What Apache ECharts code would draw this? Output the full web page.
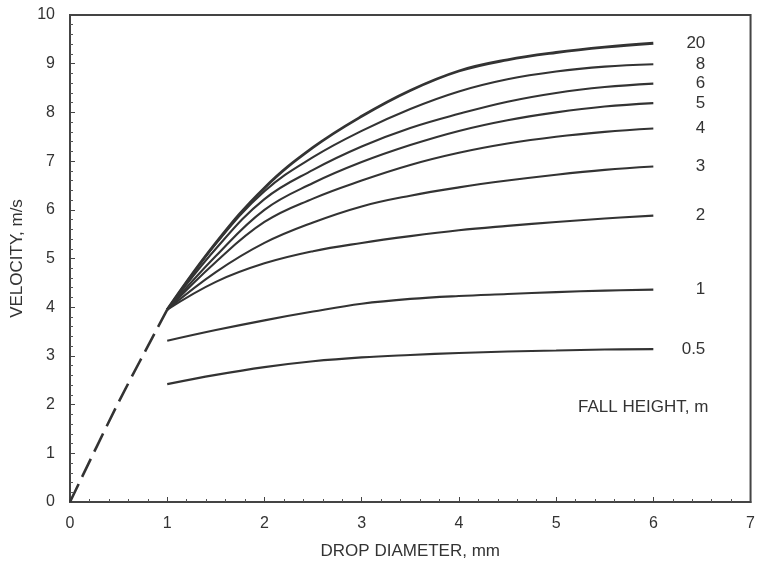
<!DOCTYPE html>
<html>
<head>
<meta charset="utf-8">
<script src="https://cdn.jsdelivr.net/npm/echarts@6/dist/echarts.min.js"></script>
<style>html,body{margin:0;padding:0;background:#fff;}#c{width:758px;height:566px;}</style>
</head>
<body>
<div id="c"></div>
<script>
const diam = [1, 1.5, 2, 2.5, 3, 3.5, 4, 4.5, 5, 5.5, 6];
const h20  = [3.95, 5.32, 6.45, 7.28, 7.92, 8.45, 8.85, 9.08, 9.23, 9.34, 9.42];
const h8   = [3.95, 5.30, 6.38, 7.08, 7.62, 8.07, 8.43, 8.68, 8.84, 8.94, 8.99];
const h6   = [3.95, 5.20, 6.22, 6.82, 7.30, 7.68, 7.97, 8.22, 8.40, 8.52, 8.59];
const h5   = [3.95, 5.05, 6.00, 6.55, 6.98, 7.33, 7.62, 7.84, 8.00, 8.12, 8.19];
const h4   = [3.95, 4.93, 5.75, 6.23, 6.60, 6.92, 7.17, 7.36, 7.50, 7.60, 7.67];
const h3   = [3.95, 4.72, 5.32, 5.74, 6.07, 6.29, 6.46, 6.60, 6.72, 6.82, 6.89];
const h2   = [3.95, 4.52, 4.90, 5.15, 5.32, 5.46, 5.58, 5.67, 5.75, 5.82, 5.88];
const h1   = [3.31, 3.53, 3.73, 3.91, 4.07, 4.17, 4.23, 4.27, 4.31, 4.34, 4.36];
const h05  = [2.42, 2.61, 2.77, 2.89, 2.97, 3.02, 3.06, 3.09, 3.11, 3.13, 3.14];
const dashX = [0, 0.5, 1];
const dashY = [0, 2.05, 3.95];
const heightNames = ['20', '8', '6', '5', '4', '3', '2', '1', '0.5'];
const heightData = [h20, h8, h6, h5, h4, h3, h2, h1, h05];
const xTicks = [0, 1, 2, 3, 4, 5, 6, 7];
const yTicks = [0, 1, 2, 3, 4, 5, 6, 7, 8, 9, 10];

const FONT = 'Liberation Sans, Arial, sans-serif';
const LINE = '#333';

const series = heightData.map((vals, i) => ({
  type: 'line',
  name: heightNames[i],
  data: diam.map((d, j) => [d, vals[j]]),
  smooth: 0.4,
  showSymbol: false,
  symbol: 'none',
  silent: true,
  lineStyle: { color: LINE, width: i === 0 ? 2.8 : 2.1 },
  endLabel: {
    show: true,
    formatter: heightNames[i],
    distance: 52,
    align: 'right',
    color: '#333',
    fontSize: 17,
    fontFamily: FONT
  }
}));

series.push({
  type: 'line',
  name: 'extrap',
  data: dashX.map((d, j) => [d, dashY[j]]),
  smooth: 0.3,
  symbol: 'none',
  silent: true,
  lineStyle: { color: LINE, width: 2.6, type: [20, 8] }
});

const chart = echarts.init(document.getElementById('c'), null, { renderer: 'canvas' });
chart.setOption({
  animation: false,
  backgroundColor: '#fff',
  grid: { left: 70, right: 2, top: 15, bottom: 64, show: true, borderColor: '#444', borderWidth: 2, backgroundColor: 'transparent' },
  xAxis: {
    type: 'value', min: 0, max: 7, interval: 1,
    name: 'DROP DIAMETER, mm', nameLocation: 'middle', nameGap: 41,
    nameTextStyle: { fontSize: 17, color: '#333', fontFamily: FONT },
    axisLine: { show: true, lineStyle: { color: '#444', width: 2 } },
    axisTick: { show: true, inside: true, length: 5, lineStyle: { color: '#444', width: 1 } },
    minorTick: { show: true, splitNumber: 5, length: 3, lineStyle: { color: '#555', width: 1 } },
    splitLine: { show: false },
    axisLabel: { margin: 14, fontSize: 16, color: '#333', fontFamily: FONT,
      formatter: v => xTicks.includes(v) ? String(v) : '' }
  },
  yAxis: {
    type: 'value', min: 0, max: 10, interval: 1,
    name: 'VELOCITY, m/s', nameLocation: 'middle', nameGap: 34,
    nameTextStyle: { fontSize: 17, color: '#333', fontFamily: FONT },
    axisLine: { show: true, lineStyle: { color: '#444', width: 2 } },
    axisTick: { show: true, inside: true, length: 5, lineStyle: { color: '#444', width: 1 } },
    minorTick: { show: true, splitNumber: 5, length: 3, lineStyle: { color: '#555', width: 1 } },
    splitLine: { show: false },
    axisLabel: { margin: 15, fontSize: 16, color: '#333', fontFamily: FONT,
      formatter: v => yTicks.includes(v) ? String(v) : '' }
  },
  graphic: [{
    type: 'text', left: 578, top: 399,
    style: { text: 'FALL HEIGHT, m', fill: '#333', font: '17px ' + FONT }
  }],
  series: series
});
</script>
</body>
</html>
